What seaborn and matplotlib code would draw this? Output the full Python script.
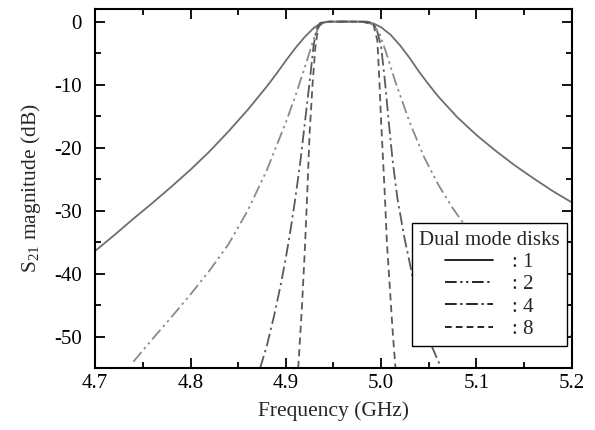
import matplotlib
matplotlib.use("Agg")
import matplotlib.pyplot as plt
from matplotlib.ticker import MultipleLocator
import seaborn as sns

# 1 dual mode disk (solid)
f1 = [4.70, 4.72, 4.74, 4.76, 4.78, 4.80, 4.82, 4.84, 4.86, 4.88, 4.89, 4.90,
      4.91, 4.92, 4.93, 4.937, 4.945, 4.96, 4.975, 4.985, 4.992, 5.00, 5.01,
      5.02, 5.03, 5.04, 5.05, 5.06, 5.08, 5.10, 5.12, 5.14, 5.16, 5.18, 5.20]
s1 = [-36.4, -33.9, -31.3, -28.8, -26.2, -23.5, -20.6, -17.4, -14.0, -10.3,
      -8.3, -6.2, -4.2, -2.4, -0.9, -0.25, 0.0, 0.0, 0.0, -0.05, -0.3, -0.9,
      -2.1, -3.8, -5.8, -8.0, -10.0, -11.9, -15.2, -18.0, -20.5, -22.8, -24.9,
      -26.9, -28.7]

# 2 disks (dash-dot-dot)
f2 = [4.74, 4.76, 4.78, 4.80, 4.82, 4.84, 4.86, 4.88, 4.90, 4.91, 4.92, 4.93,
      4.936, 4.945, 4.97, 4.985, 4.992, 4.998, 5.005, 5.015, 5.030, 5.045,
      5.060, 5.075, 5.090, 5.11, 5.13, 5.15, 5.175, 5.20]
s2 = [-54.0, -50.4, -46.9, -43.3, -39.5, -35.3, -30.0, -23.6, -16.0, -11.8,
      -7.2, -2.4, -0.4, 0.0, 0.0, -0.1, -0.5, -1.8, -4.8, -9.6, -16.0, -21.5,
      -25.9, -29.6, -32.8, -36.7, -40.2, -43.3, -46.8, -49.9]

# 4 disks (dash-dot)
f4 = [4.873, 4.880, 4.888, 4.895, 4.900, 4.905, 4.910, 4.915, 4.920, 4.925,
      4.929, 4.932, 4.936, 4.945, 4.97, 4.985, 4.990, 4.995, 5.000, 5.004,
      5.008, 5.012, 5.017, 5.024, 5.033, 5.043, 5.053, 5.063]
s4 = [-55.0, -51.5, -46.5, -41.5, -37.5, -33.0, -28.0, -22.5, -16.0, -9.5,
      -4.0, -1.2, -0.2, 0.0, 0.0, 0.0, -0.2, -1.0, -4.0, -9.5, -16.0, -22.0,
      -28.0, -34.0, -40.5, -46.5, -51.5, -55.0]

# 8 disks (dashed)
f8 = [4.913, 4.915, 4.917, 4.920, 4.922, 4.925, 4.928, 4.931, 4.934, 4.94,
      4.96, 4.98, 4.992, 4.996, 4.998, 5.000, 5.002, 5.004, 5.006, 5.009,
      5.012, 5.015]
s8 = [-55.0, -50.0, -45.0, -36.0, -29.0, -17.5, -10.0, -4.0, -0.8, 0.0, 0.0,
      0.0, -0.5, -3.0, -9.0, -16.0, -22.0, -28.0, -35.0, -42.0, -49.0, -55.0]

series = [
    (f1, s1, ": 1", "-", "#6e6e6e"),
    (f2, s2, ": 2", (0, (7, 2.2, 1.3, 2.2, 1.3, 2.2)), "#8a8a8a"),
    (f4, s4, ": 4", (0, (7, 2.2, 1.3, 2.2)), "#5a5a5a"),
    (f8, s8, ": 8", (0, (4, 2.5)), "#5a5a5a"),
]

sns.set_style("ticks")
plt.rcParams["font.family"] = ["Liberation Serif", "DejaVu Serif"]
plt.rcParams["mathtext.default"] = "regular"
plt.rcParams["axes.unicode_minus"] = False

fig = plt.figure(figsize=(5.95, 4.3), dpi=100)
ax = fig.add_axes([0.160, 0.144, 0.801, 0.835])

for f, s, lab, ls, col in series:
    sns.lineplot(x=f, y=s, ax=ax, label=lab, color=col, linewidth=1.3,
                 linestyle=ls, sort=False)

ax.set_xlim(4.7, 5.2)
ax.set_ylim(-55, 2)
ax.xaxis.set_major_locator(MultipleLocator(0.1))
ax.xaxis.set_minor_locator(MultipleLocator(0.05))
ax.yaxis.set_major_locator(MultipleLocator(10))
ax.yaxis.set_minor_locator(MultipleLocator(5))
ax.set_xticks([4.7, 4.8, 4.9, 5.0, 5.1, 5.2])
ax.set_xticklabels(["4.7", "4.8", "4.9", "5.0", "5.1", "5.2"])
ax.tick_params(which="both", direction="in", top=True, right=True,
               labelsize=15, width=1.3, colors="black")
ax.tick_params(which="major", length=7)
ax.tick_params(which="minor", length=4)
ax.tick_params(axis="x", pad=4)
ax.tick_params(axis="y", pad=9.5)
for sp in ax.spines.values():
    sp.set_linewidth(1.5)
    sp.set_color("black")

ax.set_xlabel("Frequency (GHz)", fontsize=15.5, labelpad=6)
ax.set_ylabel("S$_{21}$ magnitude (dB)", fontsize=15.5, labelpad=8)

leg = ax.legend(title="Dual mode disks", loc="lower right",
                bbox_to_anchor=(0.99, 0.061), borderaxespad=0, fontsize=15,
                title_fontsize=15, frameon=True, fancybox=False, framealpha=1,
                edgecolor="black", handlelength=2.3, handletextpad=0.9,
                borderpad=0.35, labelspacing=0.13)
leg.get_frame().set_linewidth(1.0)
leg._legend_box.align = "center"
for h in leg.get_lines():
    h.set_color("black")
    h.set_linewidth(1.2)

fig.savefig("out.png", dpi=100)
